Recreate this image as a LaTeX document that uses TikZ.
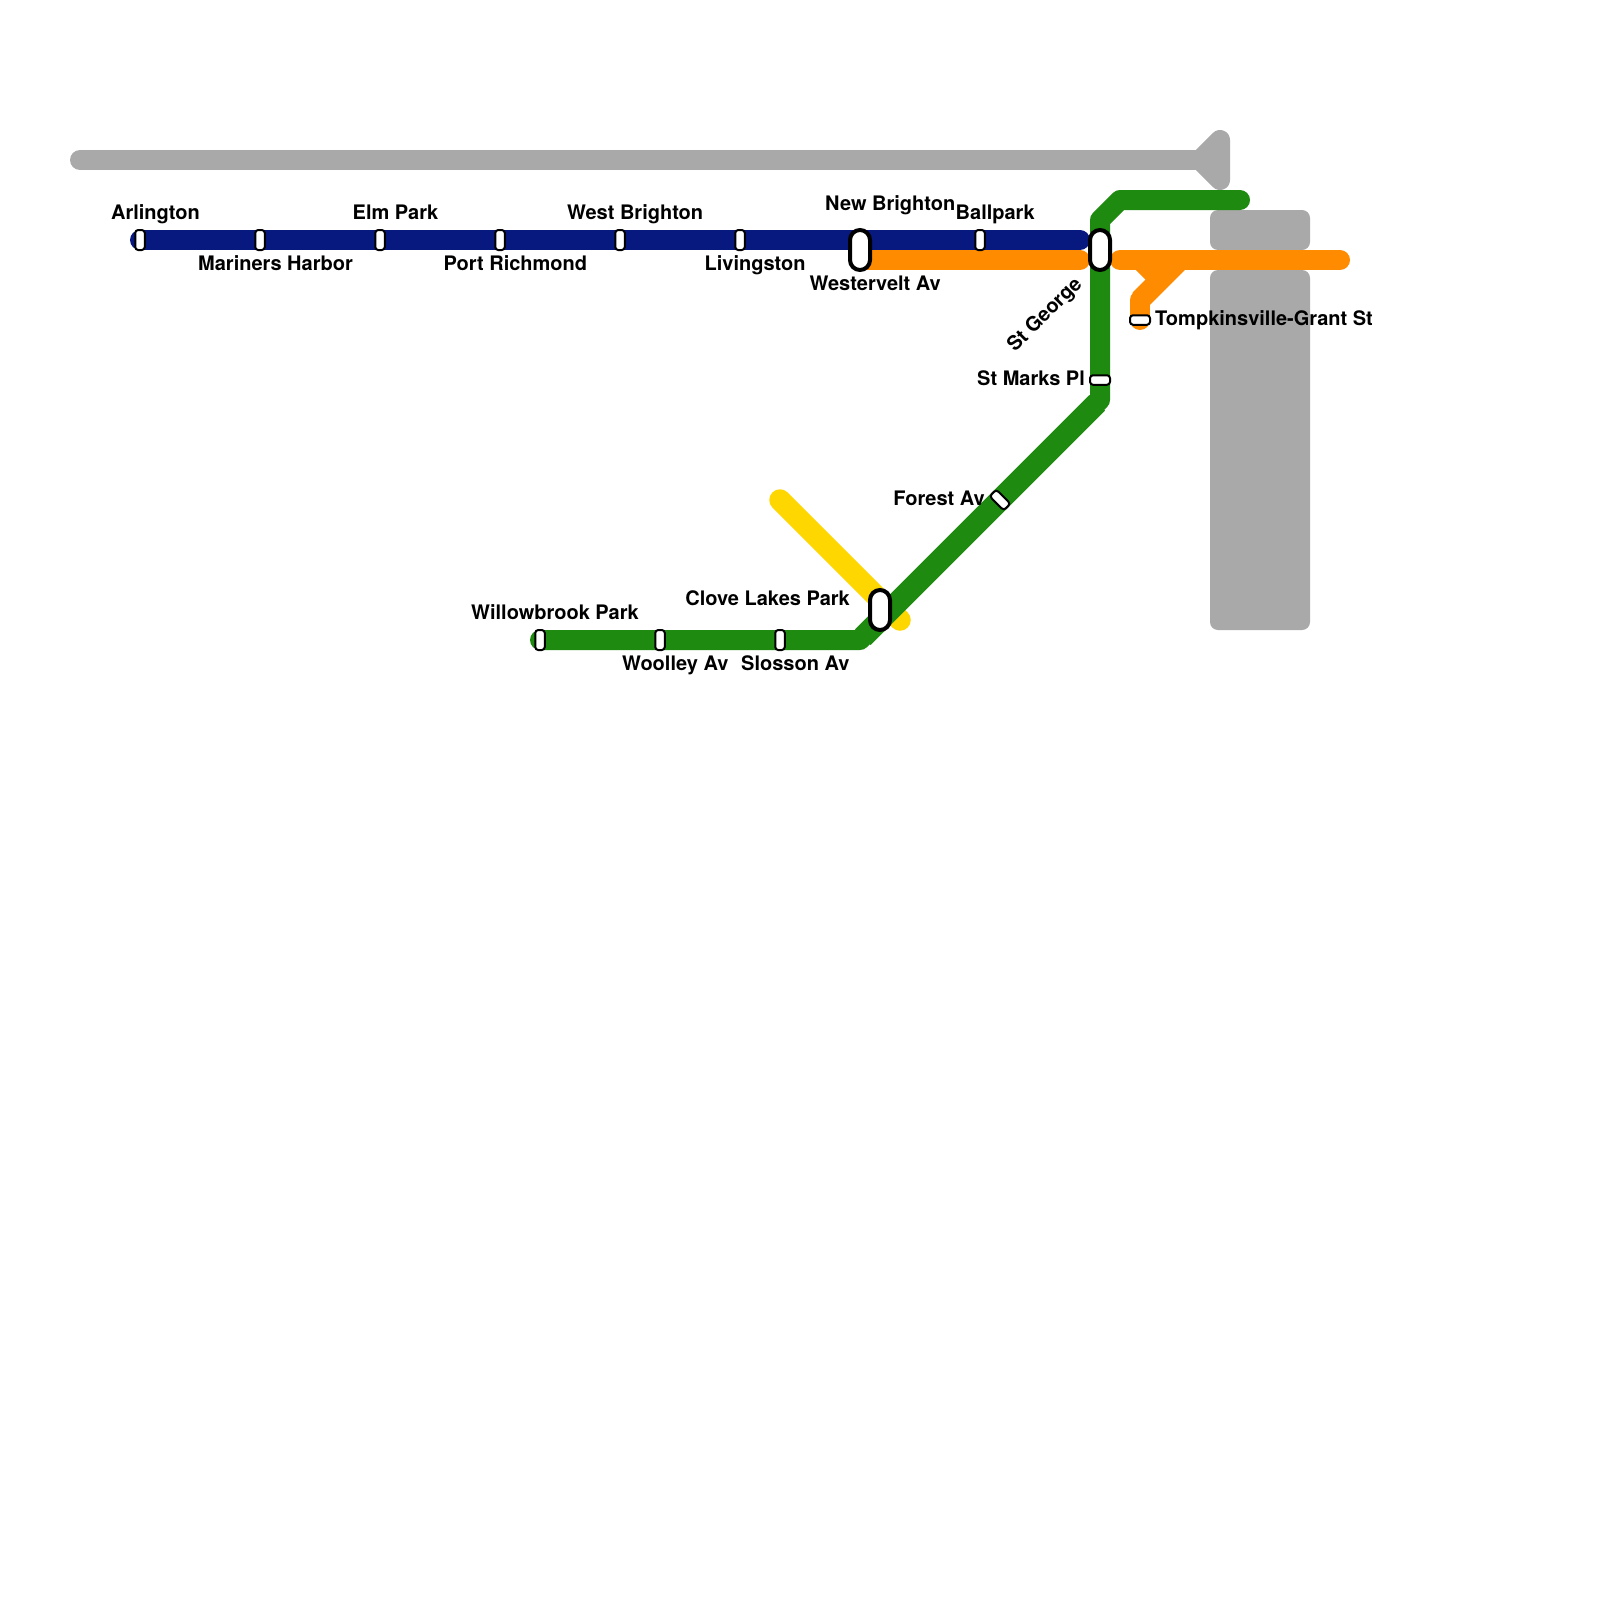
\documentclass[tikz,border=0pt]{standalone}
\usepackage{fontspec}
\setmainfont{TeX Gyre Heros}
\definecolor{mgray}{HTML}{A9A9A9}
\definecolor{mblue}{HTML}{07187F}
\definecolor{morange}{HTML}{FF8C00}
\definecolor{myellow}{HTML}{FFD700}
\definecolor{mgreen}{HTML}{1F8A10}
\tikzset{
  route/.style={line width=20pt,line cap=round,line join=round},
  block/.style={fill=mgray,rounded corners=8pt},
  halt/.style={draw=black,fill=white,line width=2pt,rounded corners=3pt,inner sep=0pt,minimum width=9.5pt,minimum height=20pt},
  halth/.style={halt,minimum width=20pt,minimum height=9.5pt},
  hub/.style={draw=black,fill=white,line width=4pt,rounded corners=10pt,inner sep=0pt,minimum width=20pt,minimum height=40pt},
  lbl/.style={font=\bfseries\fontsize{20}{24}\selectfont,inner sep=0pt,text=black},
  lw/.style={lbl,anchor=base west},
  le/.style={lbl,anchor=base east}
}
\begin{document}
\begin{tikzpicture}[x=1pt,y=-1pt]
\useasboundingbox (0,0) rectangle (1600,1600);
\fill[white] (0,0) rectangle (1600,1600);
% named positions
\foreach \n/\x/\y in {arl/140/240,mar/260/240,elm/380/240,por/500/240,wbr/620/240,liv/740/240,nbr/860/250,bal/980/240,sge/1100/250,
  blueEnd/1080/240,orA/860/260,orB/1080/260,orC/1120/260,orD/1340/260,orE/1180/260,orF/1160/280,orG/1140/300,tom/1140/320,orH/1140/260,
  grA/1240/200,grB/1120/200,grC/1100/220,stm/1100/380,grD/1100/400,fst/1000/500,grE/860/640,slo/780/640,woo/660/640,wil/540/640,clo/880/610,
  yeA/780/500,yeB/900/620,gyA/80/160,gyB/1200/160,gyC/1220/140,gyD/1220/180}
  {\coordinate (\n) at (\x,\y);}
% gray features
\draw[route,mgray] (gyA) -- (gyB);
\draw[route,mgray,fill=mgray] (gyB) -- (gyC) -- (gyD) -- cycle;
\fill[block] (1210,210) rectangle (1310,250);
\fill[block] (1210,270) rectangle (1310,630);
% routes
\draw[route,mblue] (arl) -- (blueEnd);
\draw[route,morange] (orA) -- (orB);
\draw[route,morange] (orC) -- (orD);
\draw[route,morange] (tom) -- (orG);
\draw[route,morange,line width=21pt,line cap=butt] (orG) -- (orE);
\draw[route,morange,line cap=butt] (orH) -- (orF);
\draw[route,myellow,line width=21.5pt] (yeA) -- (yeB);
\draw[route,mgreen] (grA) -- (grB) -- (grC) -- (grD) -- (grE) -- (wil);
\draw[mgreen,line width=22pt,shorten <=4pt,shorten >=4pt] (grD) -- (grE);
% stations
\node[halt] (nArl) at (arl) {};
\node[halt] (nMar) at (mar) {};
\node[halt] (nElm) at (elm) {};
\node[halt] (nPor) at (por) {};
\node[halt] (nWbr) at (wbr) {};
\node[halt] (nLiv) at (liv) {};
\node[halt] (nBal) at (bal) {};
\node[hub] (nNbr) at (nbr) {};
\node[hub] (nSge) at (sge) {};
\node[hub] (nClo) at (clo) {};
\node[halth] (nStm) at (stm) {};
\node[halth] (nTom) at (tom) {};
\node[halt,rotate=45] (nFst) at (fst) {};
\node[halt] (nWil) at (wil) {};
\node[halt] (nWoo) at (woo) {};
\node[halt] (nSlo) at (slo) {};
% labels
\node[lw] (tArl) at (111,219.5) {Arlington};
\node[lw] (tMar) at (198,270) {Mariners Harbor};
\node[lw] (tElm) at (352.5,219.5) {Elm Park};
\node[lw] (tPor) at (443.5,270) {Port Richmond};
\node[lw] (tWbr) at (567,219.5) {West Brighton};
\node[lw] (tLiv) at (704.5,270) {Livingston};
\node[lw] (tNbr) at (825,210) {New Brighton};
\node[lw] (tBal) at (955.5,219.5) {Ballpark};
\node[lw] (tWes) at (809.5,290) {Westervelt Av};
\node[lbl,anchor=base east,rotate=45] (tSge) at (1083,285) {St George};
\node[le] (tStm) at (1085,385) {St Marks Pl};
\node[lw] (tTom) at (1155,325) {Tompkinsville-Grant St};
\node[le] (tFst) at (985,505) {Forest Av};
\node[le] (tClo) at (850,605) {Clove Lakes Park};
\node[lw] (tWil) at (471,619) {Willowbrook Park};
\node[lw] (tWoo) at (622,670) {Woolley Av};
\node[lw] (tSlo) at (741,670) {Slosson Av};
\end{tikzpicture}
\end{document}
